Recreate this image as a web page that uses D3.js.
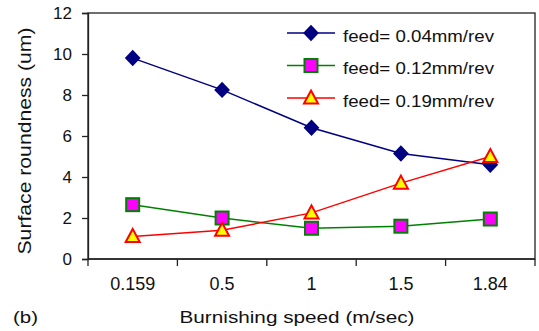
<!DOCTYPE html>
<html>
<head>
<meta charset="utf-8">
<script src="https://cdn.jsdelivr.net/npm/d3@7"></script>
<style>
  body { margin: 0; background: #fff; }
  svg text { font-family: "Liberation Sans", Arial, sans-serif; fill: #111; }
</style>
</head>
<body>
<svg id="chart" width="539" height="331"></svg>
<script>
const speeds = ["0.159", "0.5", "1", "1.5", "1.84"];
const feed004 = [9.8, 8.25, 6.4, 5.15, 4.6];
const feed012 = [2.65, 2.0, 1.5, 1.6, 1.95];
const feed019 = [1.1, 1.4, 2.25, 3.7, 5.0];
const yTicks = [0, 2, 4, 6, 8, 10, 12];

const series = [
  { name: "feed= 0.04mm/rev", values: feed004, line: "#000080", fill: "#000080", stroke: "#000080", shape: "diamond" },
  { name: "feed= 0.12mm/rev", values: feed012, line: "#008000", fill: "#ff00ff", stroke: "#008000", shape: "square" },
  { name: "feed= 0.19mm/rev", values: feed019, line: "#ff0000", fill: "#ffff00", stroke: "#ff0000", shape: "triangle" },
];

const MARGINS = { top: 13, right: 4, bottom: 72, left: 88 };
const width = 539, height = 331;

const svg = d3.select("#chart");

const x = d3.scaleBand()
  .domain(speeds)
  .range([MARGINS.left, width - MARGINS.right]);

const y = d3.scaleLinear()
  .domain([0, 12])
  .range([height - MARGINS.bottom, MARGINS.top]);

// plot frame
svg.append("rect")
  .attr("x", MARGINS.left)
  .attr("y", MARGINS.top)
  .attr("width", width - MARGINS.right - MARGINS.left)
  .attr("height", height - MARGINS.bottom - MARGINS.top)
  .attr("fill", "none")
  .attr("stroke", "#222")
  .attr("stroke-width", 1.3);

// y axis
const yAxis = svg.append("g")
  .attr("transform", `translate(${MARGINS.left},0)`)
  .call(d3.axisLeft(y).tickValues(yTicks).tickSize(6).tickPadding(10));
yAxis.select(".domain").attr("stroke", "#222").attr("stroke-width", 1.3);
yAxis.selectAll(".tick line").attr("stroke", "#222").attr("stroke-width", 1.3);
yAxis.selectAll("text").attr("font-size", 17).style("fill", "#111");

// x axis: ticks at band boundaries
const xAxis = svg.append("g")
  .attr("transform", `translate(0,${height - MARGINS.bottom})`);
const bounds = speeds.map((s) => x(s)).concat([x.range()[1]]);
xAxis.append("line")
  .attr("x1", x.range()[0]).attr("x2", x.range()[1])
  .attr("stroke", "#222").attr("stroke-width", 1.3);
xAxis.selectAll(".xt")
  .data(bounds)
  .join("line")
  .attr("class", "xt")
  .attr("x1", (d) => d).attr("x2", (d) => d)
  .attr("y1", 0).attr("y2", 7)
  .attr("stroke", "#222").attr("stroke-width", 1.3);
xAxis.selectAll(".xl")
  .data(speeds)
  .join("text")
  .attr("class", "xl")
  .attr("x", (d) => x(d) + x.bandwidth() / 2)
  .attr("y", 31)
  .attr("text-anchor", "middle")
  .attr("font-size", 18)
  .text((d) => d);

// axis titles
svg.append("text")
  .attr("transform", `translate(31,${(MARGINS.top + height - MARGINS.bottom) / 2 + 5}) rotate(-90)`)
  .attr("text-anchor", "middle")
  .attr("font-size", 19)
  .attr("textLength", 227)
  .attr("lengthAdjust", "spacingAndGlyphs")
  .text("Surface roundness (um)");

svg.append("text")
  .attr("x", 297)
  .attr("y", 323)
  .attr("text-anchor", "middle")
  .attr("font-size", 17)
  .attr("textLength", 235)
  .attr("lengthAdjust", "spacingAndGlyphs")
  .text("Burnishing speed (m/sec)");

svg.append("text")
  .attr("x", 13)
  .attr("y", 323)
  .attr("font-size", 17)
  .attr("textLength", 25)
  .attr("lengthAdjust", "spacingAndGlyphs")
  .text("(b)");

function marker(sel, shape) {
  if (shape === "diamond") {
    sel.append("path").attr("d", "M0,-6.8L6.5,0L0,6.8L-6.5,0Z");
  } else if (shape === "square") {
    sel.append("rect").attr("x", -6.5).attr("y", -6.5).attr("width", 13).attr("height", 13);
  } else {
    sel.append("path").attr("d", "M0,-7.5L7,5.5L-7,5.5Z");
  }
}

const line = d3.line()
  .x((d, i) => x(speeds[i]) + x.bandwidth() / 2)
  .y((d) => y(d));

series.forEach((s) => {
  svg.append("path")
    .attr("d", line(s.values))
    .attr("fill", "none")
    .attr("stroke", s.line)
    .attr("stroke-width", 1.5);

  svg.append("g")
    .selectAll("g")
    .data(s.values)
    .join("g")
    .attr("transform", (d, i) => `translate(${x(speeds[i]) + x.bandwidth() / 2},${y(d)})`)
    .attr("fill", s.fill)
    .attr("stroke", s.stroke)
    .attr("stroke-width", 2)
    .attr("stroke-linejoin", "miter")
    .each(function () { marker(d3.select(this), s.shape); });
});

// legend
const legend = svg.append("g")
  .selectAll("g")
  .data(series)
  .join("g")
  .attr("transform", (d, i) => `translate(287,${33 + i * 32.5})`);

legend.append("line")
  .attr("x1", 0).attr("x2", 48)
  .attr("stroke", (d) => d.line)
  .attr("stroke-width", 1.5);

legend.append("g")
  .attr("transform", "translate(24,0)")
  .attr("fill", (d) => d.fill)
  .attr("stroke", (d) => d.stroke)
  .attr("stroke-width", 2)
  .each(function (d) { marker(d3.select(this), d.shape); });

legend.append("text")
  .attr("x", 56)
  .attr("y", 8.5)
  .attr("font-size", 17)
  .attr("textLength", 151)
  .attr("lengthAdjust", "spacingAndGlyphs")
  .text((d) => d.name);
</script>
</body>
</html>
